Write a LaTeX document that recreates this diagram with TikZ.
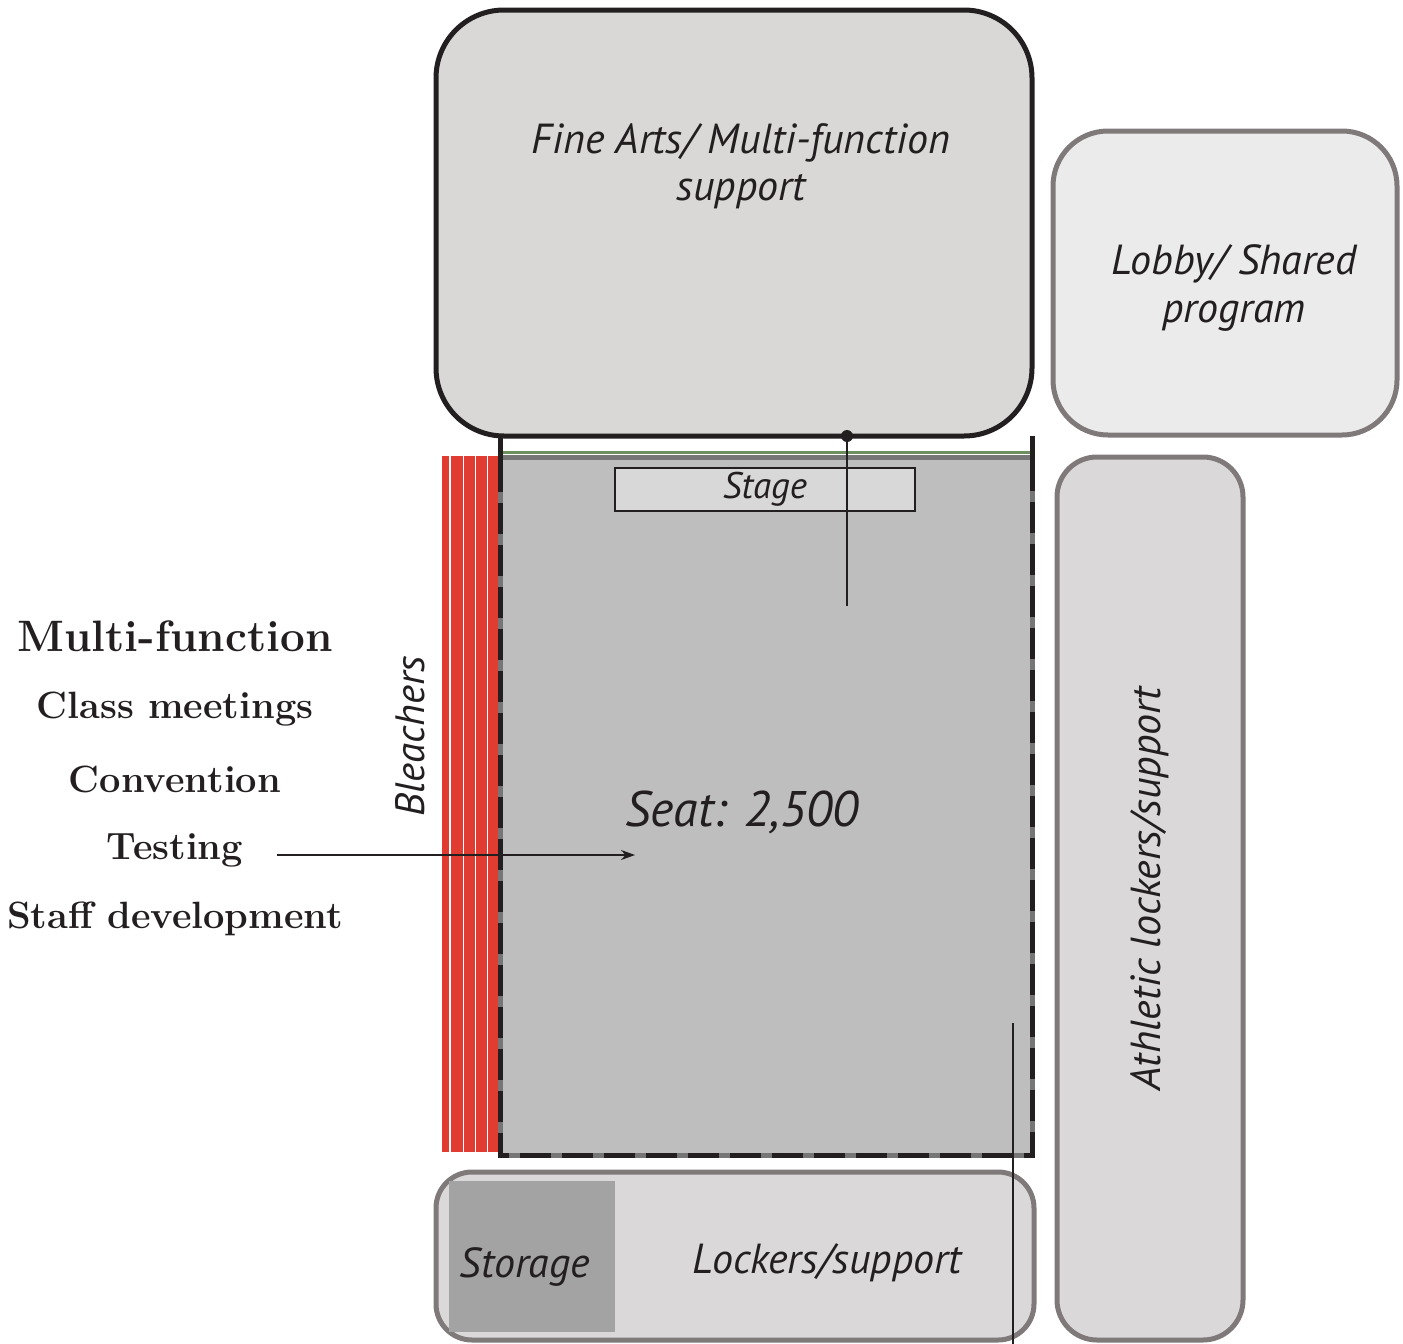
\documentclass[tikz,border=0pt]{standalone}
\usepackage{fontspec}
\setsansfont{PT Sans}
\usetikzlibrary{positioning,arrows.meta,calc}
\definecolor{ink}{HTML}{231F20}
\definecolor{roomGray}{HTML}{D9D8D6}
\definecolor{lobbyGray}{HTML}{EBEBEB}
\definecolor{edgeGray}{HTML}{7F7979}
\definecolor{supportGray}{HTML}{DAD8D9}
\definecolor{gymGray}{HTML}{BEBEBE}
\definecolor{stageGray}{HTML}{D8D8D8}
\definecolor{storeGray}{HTML}{A3A3A3}
\definecolor{bleacherRed}{HTML}{E03C31}
\definecolor{floorGreen}{HTML}{6E8F5E}
\definecolor{rimGray}{HTML}{767676}
\newcommand{\roomfont}[1]{\fontsize{#1}{1.12\dimexpr#1\relax}\selectfont\sffamily\itshape}

\begin{document}
\begin{tikzpicture}[
  x=1pt, y=-1pt,
  every node/.style={inner sep=0pt, outer sep=0pt, text=ink},
  room/.style={line width=5pt, draw=edgeGray, fill=supportGray},
  roomlabel/.style={align=center, font=\roomfont{42pt}},
  uselabel/.style={font=\fontsize{38pt}{42pt}\selectfont\bfseries},
  arrow/.style={-{Stealth[length=14pt, width=10pt]}, line width=1.5pt, color=ink}
]
  \useasboundingbox (0,0) rectangle (1403,1344);

  \node[room, draw=ink, fill=roomGray, rounded corners=68pt,
        minimum width=596pt, minimum height=426pt] (finearts) at (734,223) {};
  \node[room, fill=lobbyGray, rounded corners=55pt,
        minimum width=344pt, minimum height=304pt] (lobby) at (1225,283) {};
  \node[room, rounded corners=40pt,
        minimum width=186pt, minimum height=883pt] (athletic) at (1150,898.5) {};
  \node[room, rounded corners=36pt,
        minimum width=598pt, minimum height=168pt] (lockers) at (735,1256) {};
  \node[fill=storeGray, minimum width=166pt, minimum height=151pt] (storage) at (532,1256.5) {};

  \node[fill=gymGray, minimum width=532pt, minimum height=700pt] (gym) at (766,805) {};
  \node[fill=bleacherRed, minimum width=58pt, minimum height=696pt] (bleachers) at (471,804) {};
  \foreach \sx in {450,463.5,475.5,487.5}
    \draw[white, line width=1.6pt] (\sx,456) -- (\sx,1152);

  \draw[rimGray, line width=5pt] (gym.north west) -- (gym.south west) -- (gym.south east) -- (gym.north east);
  \draw[ink, line width=5pt, dash pattern=on 31pt off 11pt, dash phase=-6pt]
    (gym.north west) -- (gym.south west) -- (gym.south east) -- (gym.north east);
  \draw[rimGray, line width=5pt] (500,457.5) -- (1032,457.5);
  \draw[floorGreen, line width=3.5pt] (500,452.5) -- (1032,452.5);
  \draw[ink, line width=5pt] (500,436) -- (500,466);
  \draw[ink, line width=5pt] (1032,436) -- (1032,466);

  \node[draw=ink, line width=1.5pt, fill=stageGray, minimum width=300pt, minimum height=43pt,
        font=\roomfont{37pt}] (stage) at (765,489.5) {Stage};

  \node[roomlabel] (fineartstext) at (741,166) {Fine Arts/ Multi-function\\support};
  \node[roomlabel] (lobbytext) at (1234,288) {Lobby/ Shared\\program};
  \node[roomlabel, rotate=90] (athletictext) at (1150,889) {Athletic lockers/support};
  \node[roomlabel] (storagetext) at (525,1267) {Storage};
  \node[roomlabel] (lockerstext) at (827,1263) {Lockers/support};
  \node[roomlabel, font=\roomfont{41pt}, rotate=90] (bleacherstext) at (410,736) {Bleachers};
  \node[roomlabel, font=\roomfont{50pt}] (seat) at (742,812) {Seat: 2,500};

  \node[fill=ink, circle, minimum size=12pt] (mic) at (847,436) {};
  \coordinate (micend) at (847,606);
  \draw[ink, line width=1.5pt] (mic) -- (micend);
  \coordinate (dropstart) at (1013,1023);
  \coordinate (dropend) at (1013,1344);
  \draw[ink, line width=2pt] (dropstart) -- (dropend);

  \node[uselabel, font=\fontsize{44pt}{48pt}\selectfont\bfseries] (multi) at (175,636) {Multi-function};
  \node[uselabel] (classes) at (175,709) {Class meetings};
  \node[uselabel] (convention) at (175,779) {Convention};
  \node[uselabel] (testing) at (175,850) {Testing};
  \node[uselabel] (staff) at (175,919) {Staff development};

  \coordinate (arrowtail) at (277,855);
  \coordinate (arrowtip) at (635,855);
  \draw[arrow] (arrowtail) -- (arrowtip);
\end{tikzpicture}
\end{document}
